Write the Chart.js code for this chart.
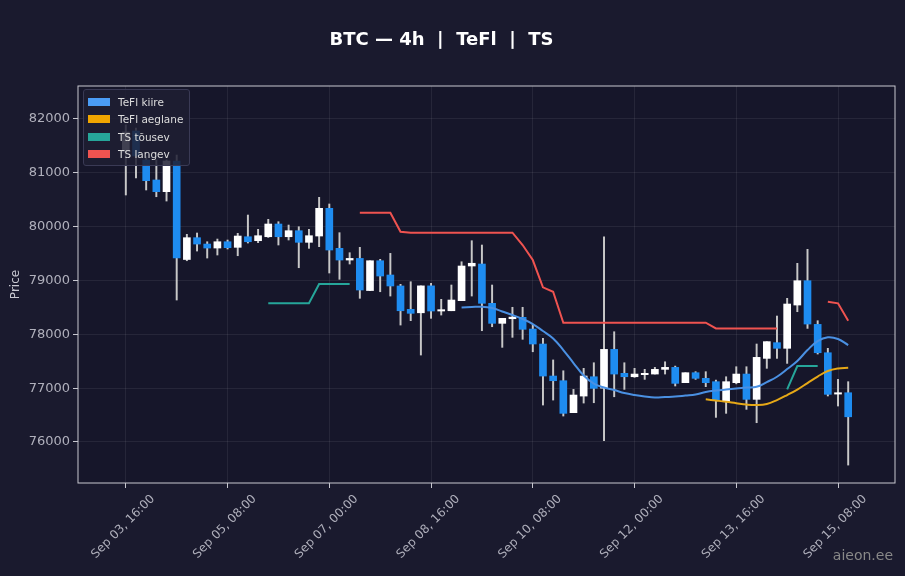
<!DOCTYPE html>
<html>
<head>
<meta charset="utf-8">
<script src="https://cdn.jsdelivr.net/npm/chart.js@4.4.1/dist/chart.umd.min.js"></script>
<style>
  html, body { margin: 0; padding: 0; background: #1a1a2e; }
  #wrap { position: relative; width: 905px; height: 576px; font-family: 'DejaVu Sans', sans-serif; }
  #title { position: absolute; top: 28px; left: 0; width: 883px; text-align: center; color: #fff; font-weight: bold; font-size: 18px; white-space: pre; }
  #legend { position: absolute; left: 83px; top: 89px; padding: 3px 6px 2px 4px; background: rgba(30,30,50,0.85); border: 1px solid #3a3a55; border-radius: 3px; }
  .item { display: flex; align-items: center; height: 17.5px; color: #ddd; font-size: 10.5px; }
  .box { width: 22px; height: 8px; margin-right: 8px; }
  #mark { position: absolute; right: 12px; bottom: 13px; color: #888; font-size: 14px; }
</style>
</head>
<body>
<div id="wrap">
  <canvas id="chart" width="905" height="576"></canvas>
  <div id="title">BTC — 4h  |  TeFl  |  TS</div>
  <div id="legend"></div>
  <div id="mark">aieon.ee</div>
</div>
<script>
// 4h candles, index 0 = Sep 03, 16:00
const opens = [81387, 81777, 81238, 80867, 80650, 81220, 79390, 79795, 79677, 79603,
  79720, 79616, 79813, 79739, 79813, 80049, 79813, 79925, 79709, 79826,
  80341, 79597, 79380, 79410, 78813, 79367, 79102, 78898, 78464, 78400,
  78900, 78433, 78438, 78625, 79269, 79306, 78576, 78204, 78290, 78316,
  78098, 77820, 77225, 77138, 76544, 76853, 77212, 77000, 77720, 77275,
  77212, 77250, 77262, 77349, 77386, 77102, 77287, 77182, 77120, 76748,
  77102, 77262, 76792, 77553, 77845, 77740, 78544, 78996, 78185, 77658,
  76890, 76915];
const closes = [81758, 81313, 80854, 80650, 81220, 79417, 79795, 79677, 79603, 79720,
  79610, 79826, 79720, 79832, 80049, 79813, 79925, 79709, 79832, 80341,
  79566, 79380, 79410, 78823, 79367, 79083, 78898, 78438, 78390, 78900,
  78433, 78452, 78637, 79269, 79320, 78576, 78204, 78297, 78320, 78093,
  77820, 77225, 77138, 76532, 76872, 77225, 76996, 77720, 77262, 77212,
  77262, 77262, 77349, 77386, 77089, 77287, 77182, 77102, 76767, 77120,
  77262, 76792, 77572, 77864, 77740, 78563, 78996, 78191, 77658, 76885,
  76915, 76468];
const highs = [81890, 81833, 81300, 81238, 81240, 81330, 79858, 79882, 79720, 79770,
  79752, 79876, 80216, 79950, 80136, 80092, 80030, 79999, 79950, 80545,
  80421, 79888, 79516, 79616, 79367, 79393, 79504, 78929, 78977, 78900,
  78947, 78650, 78916, 79348, 79739, 79659, 78916, 78297, 78502, 78502,
  78185, 77925, 77524, 77323, 76977, 77368, 77472, 79813, 78048, 77472,
  77368, 77350, 77386, 77490, 77410, 77287, 77306, 77306, 77150, 77212,
  77398, 77398, 77820, 77864, 78340, 78669, 79319, 79579, 78253, 77740,
  77163, 77120];
const lows = [80588, 80904, 80681, 80556, 80476, 78637, 79367, 79547, 79417, 79473,
  79585, 79460, 79696, 79702, 79800, 79659, 79752, 79237, 79597, 79628,
  79139, 79022, 79306, 78669, 78813, 78791, 78711, 78172, 78253, 77615,
  78297, 78358, 78438, 78625, 78711, 78067, 78141, 77758, 77944, 77907,
  77676, 76686, 76779, 76482, 76544, 76723, 76729, 76023, 76840, 76977,
  77200, 77163, 77262, 77262, 77040, 77102, 77163, 77027, 76457, 76532,
  77080, 76606, 76358, 77368, 77553, 77460, 78420, 78110, 77634, 76854,
  76668, 75571];

const tickLabels = ['Sep 03, 16:00', 'Sep 05, 08:00', 'Sep 07, 00:00', 'Sep 08, 16:00',
  'Sep 10, 08:00', 'Sep 12, 00:00', 'Sep 13, 16:00', 'Sep 15, 08:00'];

// TeFl kiire from index 33
const fastStart = 33;
const fastLine = [78500, 78507, 78512, 78488, 78423, 78358, 78284, 78191, 78061, 77922,
  77708, 77467, 77234, 77086, 77011, 76965, 76909, 76872, 76844, 76826,
  76835, 76844, 76862, 76881, 76928, 76955, 76974, 76993, 77011, 77026,
  77113, 77212, 77355, 77504, 77708, 77875, 77944, 77912, 77800];
// TeFl aeglane from index 57
const slowStart = 57;
const slowLine = [76792, 76770, 76747, 76720, 76695, 76686, 76705, 76779, 76872, 76974,
  77095, 77216, 77318, 77365, 77380];
// TS tõusev / langev, per index (null = no value)
const tsUp = [];
const tsDown = [];
for (let i = 0; i < opens.length; i++) { tsUp.push(null); tsDown.push(null); }
[[14, 78576], [15, 78576], [16, 78576], [17, 78576], [18, 78576], [19, 78934], [20, 78934], [21, 78934], [22, 78934],
 [65, 76977], [66, 77410], [67, 77410], [68, 77410]].forEach(([i, v]) => tsUp[i] = v);
[[23, 80259], [24, 80259], [25, 80259], [26, 80259], [27, 79906], [28, 79888], [29, 79888], [30, 79888],
 [31, 79888], [32, 79888], [33, 79888], [34, 79888], [35, 79888], [36, 79888], [37, 79888], [38, 79888],
 [39, 79659], [40, 79380], [41, 78873], [42, 78791], [43, 78215], [44, 78215], [45, 78215], [46, 78215],
 [47, 78215], [48, 78215], [49, 78215], [50, 78215], [51, 78215], [52, 78215], [53, 78215], [54, 78215],
 [55, 78215], [56, 78215], [57, 78215], [58, 78110], [59, 78110], [60, 78110], [61, 78110], [62, 78110],
 [63, 78110], [64, 78110], [69, 78606], [70, 78576], [71, 78253]].forEach(([i, v]) => tsDown[i] = v);

const UP = '#ffffff';
const DOWN = '#1e8cf0';

const bodies = opens.map((o, i) => {
  let c = closes[i];
  if (Math.abs(c - o) < 25) c = o + (c >= o ? 25 : -25);
  return { x: i, y: [o, c] };
});
const wicks = opens.map((o, i) => ({ x: i, y: [lows[i], highs[i]] }));
const bodyColors = opens.map((o, i) => closes[i] >= o ? UP : DOWN);

function toPoints(arr, start) {
  return arr.map((v, k) => ({ x: start + k, y: v }));
}

const frame = {
  id: 'frame',
  afterDraw(chart) {
    const a = chart.chartArea;
    const ctx = chart.ctx;
    ctx.save();
    ctx.strokeStyle = '#c8c8d0';
    ctx.lineWidth = 1;
    ctx.strokeRect(a.left, a.top, a.right - a.left, a.bottom - a.top);
    ctx.restore();
  }
};

const bg = {
  id: 'bg',
  beforeDraw(chart) {
    const ctx = chart.ctx;
    ctx.save();
    ctx.fillStyle = '#1a1a2e';
    ctx.fillRect(0, 0, chart.width, chart.height);
    const a = chart.chartArea;
    ctx.fillStyle = '#16162a';
    ctx.fillRect(a.left, a.top, a.right - a.left, a.bottom - a.top);
    ctx.restore();
  }
};

const lineBase = { type: 'line', pointRadius: 0, borderWidth: 2, tension: 0, fill: false, spanGaps: false };

new Chart(document.getElementById('chart'), {
  type: 'bar',
  data: {
    datasets: [
      { ...lineBase, label: 'TS langev', data: toPoints(tsDown, 0), borderColor: '#ef5350', order: 1 },
      { ...lineBase, label: 'TS tõusev', data: toPoints(tsUp, 0), borderColor: '#26a69a', order: 1 },
      { ...lineBase, label: 'TeFl aeglane', data: toPoints(slowLine, slowStart), borderColor: '#e6a817', tension: 0.4, order: 0 },
      { ...lineBase, label: 'TeFl kiire', data: toPoints(fastLine, fastStart), borderColor: '#4a90e2', tension: 0.4, order: 0 },
      { label: 'body', data: bodies, backgroundColor: bodyColors, barThickness: 7, grouped: false, order: 2 },
      { label: 'wick', data: wicks, backgroundColor: '#c8c8c8', barThickness: 1.3, grouped: false, order: 3 }
    ]
  },
  options: {
    responsive: false,
    animation: false,
    layout: { padding: { top: 86, right: 10, left: 9, bottom: 0 } },
    plugins: { legend: { display: false }, tooltip: { enabled: false } },
    scales: {
      x: {
        type: 'linear',
        offset: false,
        min: -4.7,
        max: 75.6,
        afterBuildTicks: s => { s.ticks = [0, 10, 20, 30, 40, 50, 60, 70].map(v => ({ value: v })); },
        afterFit: s => { s.height = 93; },
        ticks: {
          color: '#b0b0bc',
          font: { family: 'DejaVu Sans', size: 12 },
          maxRotation: 45, minRotation: 45,
          labelOffset: 27,
          padding: 4,
          callback: v => tickLabels[v / 10]
        },
        grid: { offset: false, color: 'rgba(255,255,255,0.07)', drawTicks: true, tickColor: '#c8c8d0', tickLength: 5 },
        border: { display: false }
      },
      y: {
        min: 75238,
        max: 82613,
        afterBuildTicks: s => { s.ticks = [76000, 77000, 78000, 79000, 80000, 81000, 82000].map(v => ({ value: v })); },
        afterFit: s => { s.width = 69; },
        ticks: { color: '#b0b0bc', font: { family: 'DejaVu Sans', size: 13 }, callback: v => String(v) },
        grid: { color: 'rgba(255,255,255,0.07)', tickColor: '#c8c8d0', tickLength: 5 },
        border: { display: false },
        title: { display: true, text: 'Price', color: '#c8c8d0', font: { family: 'DejaVu Sans', size: 12 }, padding: 0 }
      }
    }
  },
  plugins: [bg, frame]
});

const legendItems = [['TeFl kiire', '#4a9cf5'], ['TeFl aeglane', '#f0a500'], ['TS tõusev', '#26a69a'], ['TS langev', '#ef5350']];
document.getElementById('legend').innerHTML = legendItems.map(([t, c]) =>
  `<div class="item"><span class="box" style="background:${c}"></span>${t}</div>`).join('');
</script>
</body>
</html>
